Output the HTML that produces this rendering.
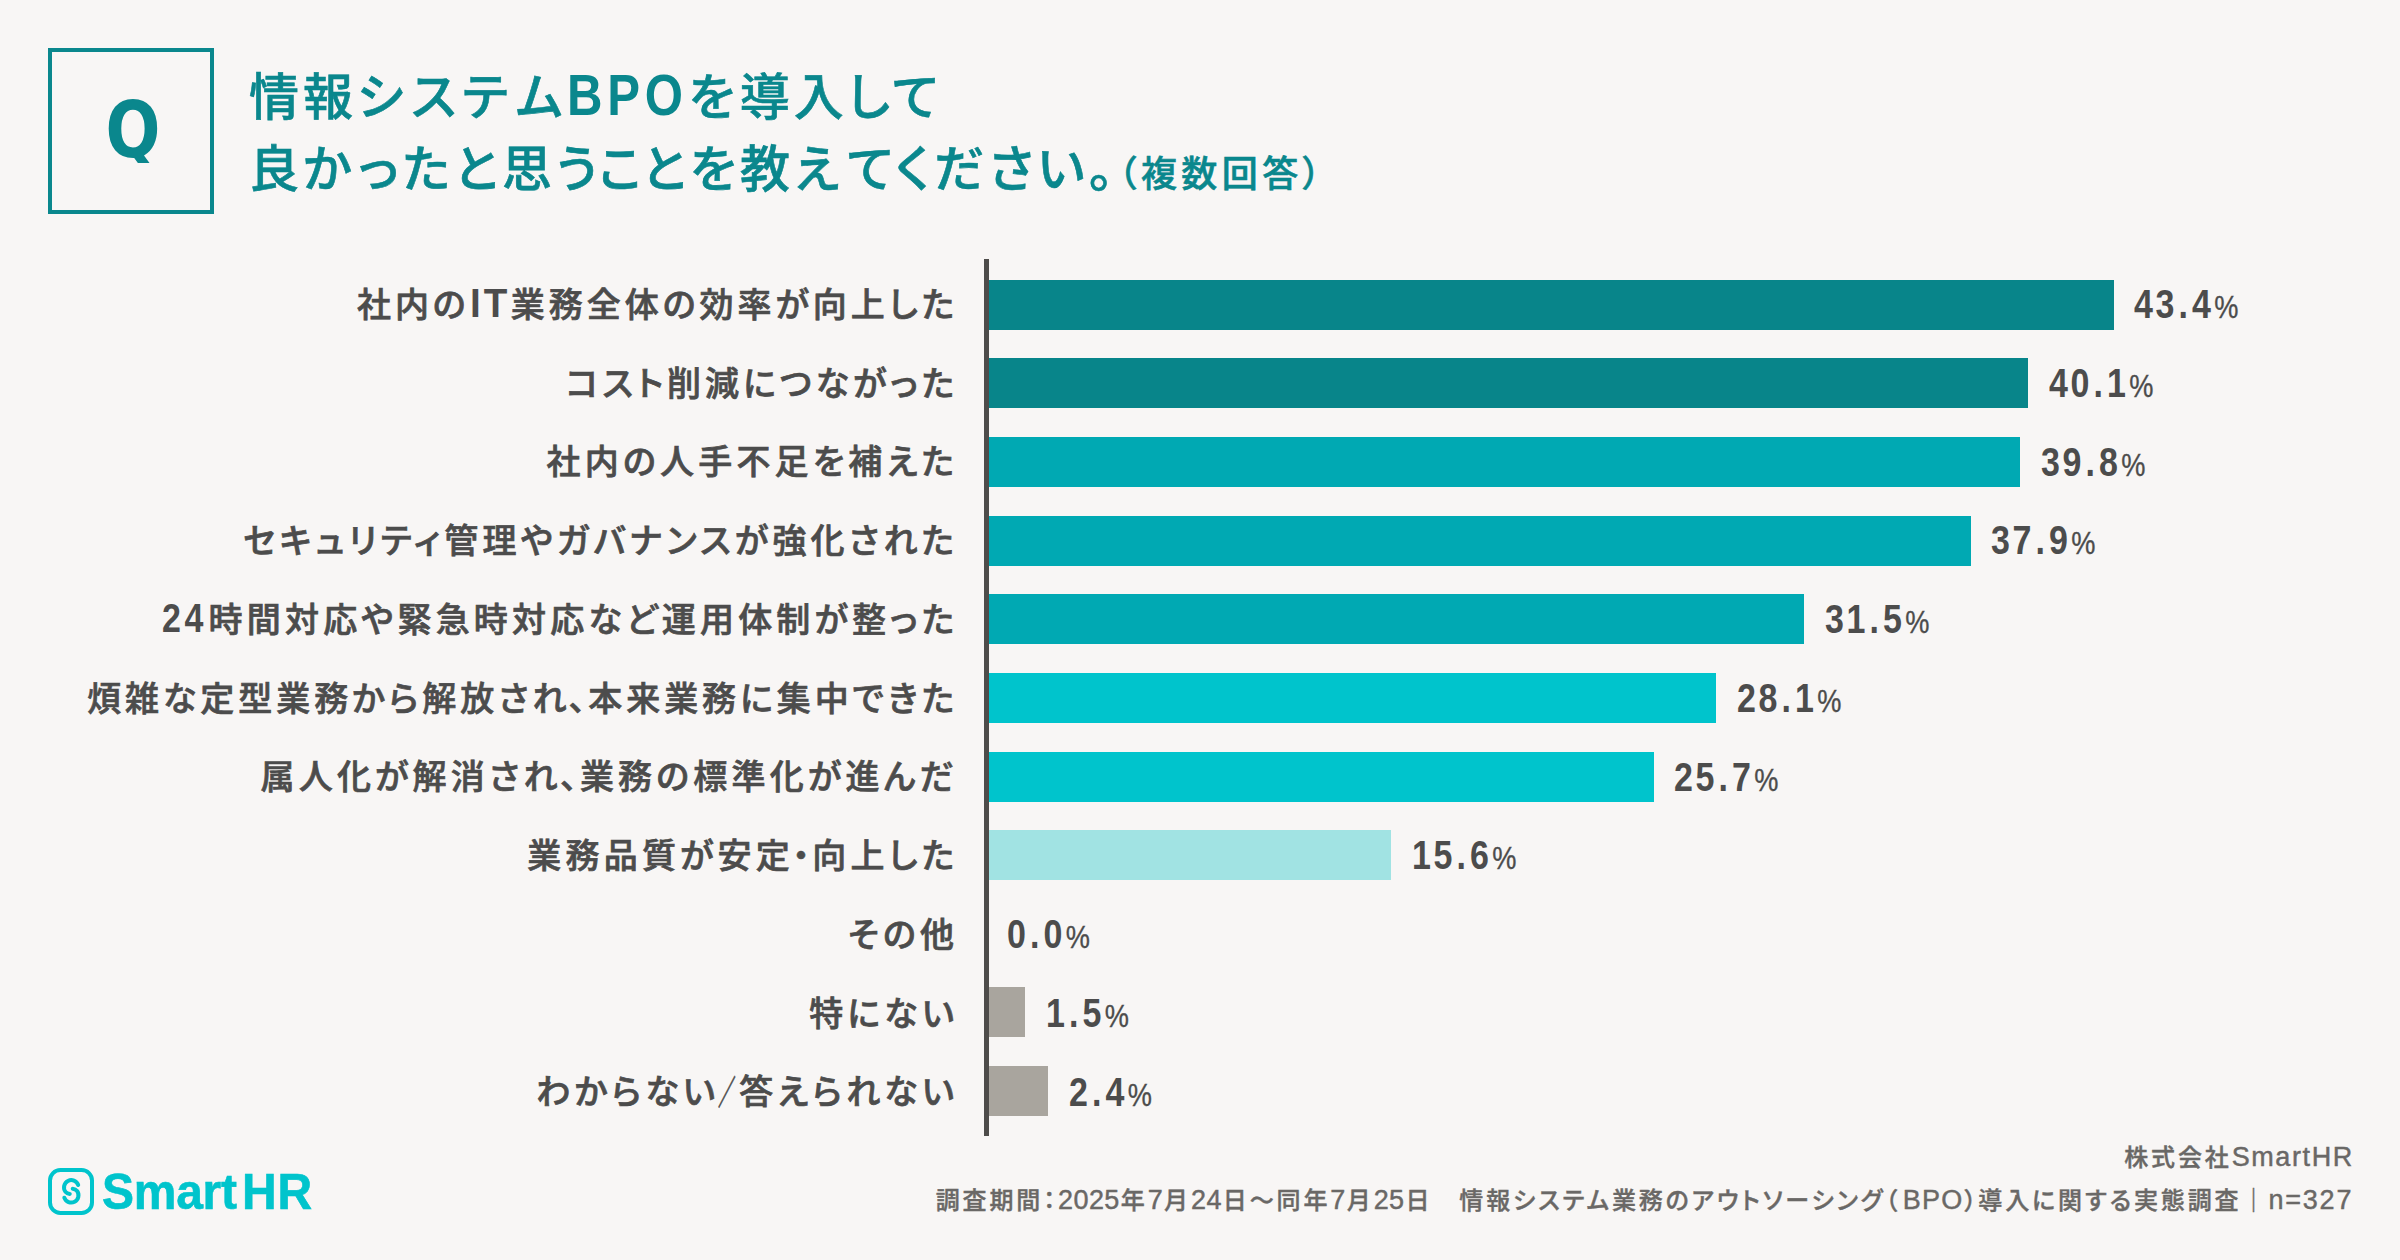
<!DOCTYPE html>
<html lang="ja">
<head>
<meta charset="utf-8">
<title>情報システムBPOを導入して良かったと思うこと</title>
<style>
html,body{margin:0;padding:0;}
body{width:2400px;height:1260px;overflow:hidden;background:#F8F6F5;position:relative;
  font-family:"Liberation Sans","Noto Sans CJK JP",sans-serif;color:#4C4C4C;}
div{position:absolute;white-space:nowrap;}
.qbox{left:48px;top:48px;width:158px;height:158px;border:4px solid #0A878D;}
.q{left:49.5px;top:48px;width:166px;height:114.5px;overflow:hidden;line-height:164px;text-align:center;font-family:"DejaVu Sans Condensed","Liberation Sans",sans-serif;font-size:78px;font-weight:700;color:#0A878D;transform:scaleX(0.92);}
.t{left:249px;font-size:50px;font-weight:500;-webkit-text-stroke:0.6px #0A878D;color:#0A878D;letter-spacing:4px;line-height:72px;height:72px;font-feature-settings:"palt";}
.t1{top:62px;}
.t2{top:134px;}
.t .bpo{font-weight:700;-webkit-text-stroke:0;display:inline-block;width:122px;font-size:56.5px;letter-spacing:5.5px;transform:scaleX(0.87);transform-origin:0 50%;vertical-align:baseline;line-height:60px;margin-left:0px;}
.t i{font-style:normal;}
.t .sm{font-size:36px;letter-spacing:4.4px;margin-left:1px;}
.lab .h{margin:0 -1.5px;}
.lab .p{display:inline-block;width:21px;margin:0 0 0 -1px;font-weight:900;-webkit-text-stroke:0.5px #4C4C4C;font-feature-settings:normal;letter-spacing:0;position:relative;top:1px;transform:scaleX(0.52);transform-origin:0 50%;text-align:left;}
.lab .n{display:inline-block;font-size:40px;font-weight:700;-webkit-text-stroke:0;letter-spacing:4.2px;transform:scaleX(0.85);transform-origin:0 50%;line-height:40px;text-align:left;}
.lab{right:1446px;height:70px;line-height:70px;font-size:34px;font-weight:500;-webkit-text-stroke:0.7px #4C4C4C;letter-spacing:4.2px;margin-right:-4.2px;font-feature-settings:"palt";text-align:right;}
.axis{left:983.6px;top:259px;width:5px;height:876.7px;background:#4E4C4A;z-index:2;}
.bar{left:985.9px;height:50px;}
.val{height:70px;line-height:70px;font-size:40px;font-weight:700;letter-spacing:3px;transform:scaleX(0.85);transform-origin:0 50%;}
.val i{font-style:normal;margin:0 1.8px;}
.val .pc{font-size:32px;font-weight:400;letter-spacing:0;margin-left:1px;-webkit-text-stroke:0.35px #4C4C4C;}
.logo{left:48px;top:1168px;}
.logot{left:102px;top:1162.3px;height:60px;line-height:60px;font-size:49.5px;font-weight:700;color:#00C4CC;letter-spacing:-0.3px;-webkit-text-stroke:0.6px #00C4CC;transform:scaleX(0.97);transform-origin:0 50%;}
.logot span{margin-left:5.5px;letter-spacing:0.8px;}
.f{right:48px;text-align:right;font-size:24px;color:#6A6866;letter-spacing:2.88px;margin-right:-2.88px;height:40px;line-height:40px;font-weight:500;font-feature-settings:"palt";-webkit-text-stroke:0.4px #6A6866;}
.f .l{font-size:27px;letter-spacing:0.4px;font-weight:400;-webkit-text-stroke:0.45px #6A6866;margin-right:1px;}
.f1{top:1137px;}
.f2{top:1180px;right:auto;left:935.7px;text-align:left;}
</style>
</head>
<body>
<div class="qbox"></div>
<div class="q">Q</div>
<div class="t t1">情報シ<i style="margin-left:4px">ス</i><i style="margin-left:2px">テ</i><i style="margin-left:4px">ム</i><span class="bpo">BPO</span>を<i style="margin-left:1px">導</i>入して</div>
<div class="t t2">良か<i style="margin-left:3px">っ</i>たと思う<i style="margin-left:-3px">こ</i><i style="margin-left:-4px">と</i>を教え<i style="margin-left:4px">て</i>ください。<span class="sm"><span class="p">（</span>複数回答<span class="p">）</span></span></div>
<div class="axis"></div>
<div class="lab" style="top:269.80px;letter-spacing:4.0px;margin-right:-4.0px">社内の<span class="n" style="width:41.1px;font-size:41.5px;letter-spacing:3.2px;transform:scaleX(0.93)">IT</span>業務全体の効率が向上した</div>
<div class="bar" style="top:279.80px;width:1127.79px;background:#08858A"></div>
<div class="val" style="top:269.10px;left:2134.39px">43<i>.</i>4<span class="pc">%</span></div>
<div class="lab" style="top:348.55px;letter-spacing:4.0px;margin-right:-4.0px">コスト削減につながった</div>
<div class="bar" style="top:358.42px;width:1042.04px;background:#08858A"></div>
<div class="val" style="top:347.85px;left:2048.64px">40<i>.</i>1<span class="pc">%</span></div>
<div class="lab" style="top:427.30px;letter-spacing:4.2px;margin-right:-4.2px">社内の人手不足を補えた</div>
<div class="bar" style="top:437.04px;width:1034.24px;background:#00A9B3"></div>
<div class="val" style="top:426.60px;left:2040.84px">39<i>.</i>8<span class="pc">%</span></div>
<div class="lab" style="top:506.05px;letter-spacing:4.2px;margin-right:-4.2px">セキュリティ管理やガバナンスが強化された</div>
<div class="bar" style="top:515.66px;width:984.87px;background:#00A9B3"></div>
<div class="val" style="top:505.35px;left:1991.47px">37<i>.</i>9<span class="pc">%</span></div>
<div class="lab" style="top:584.80px;letter-spacing:4.2px;margin-right:-4.2px"><span class="n" style="width:46.2px">24</span>時間対応や緊急時対応など運用体制が整った</div>
<div class="bar" style="top:594.28px;width:818.56px;background:#00A9B3"></div>
<div class="val" style="top:584.10px;left:1825.16px">31<i>.</i>5<span class="pc">%</span></div>
<div class="lab" style="top:663.55px;letter-spacing:3.93px;margin-right:-3.93px">煩雑な定型業務から解放され<span class="h">、</span>本来業務に集中できた</div>
<div class="bar" style="top:672.90px;width:730.21px;background:#00C4CC"></div>
<div class="val" style="top:662.85px;left:1736.81px">28<i>.</i>1<span class="pc">%</span></div>
<div class="lab" style="top:742.30px;letter-spacing:4.2px;margin-right:-4.2px">属人化が解消され<span class="h">、</span>業務の標準化が進んだ</div>
<div class="bar" style="top:751.52px;width:667.84px;background:#00C4CC"></div>
<div class="val" style="top:741.60px;left:1674.44px">25<i>.</i>7<span class="pc">%</span></div>
<div class="lab" style="top:821.05px;letter-spacing:4.2px;margin-right:-4.2px">業務品質が安定<span class="h">・</span>向上した</div>
<div class="bar" style="top:830.14px;width:405.38px;background:#A1E3E3"></div>
<div class="val" style="top:820.35px;left:1411.98px">15<i>.</i>6<span class="pc">%</span></div>
<div class="lab" style="top:899.80px;letter-spacing:4.2px;margin-right:-4.2px">その他</div>
<div class="val" style="top:899.10px;left:1006.60px">0<i>.</i>0<span class="pc">%</span></div>
<div class="lab" style="top:978.55px;letter-spacing:4.2px;margin-right:-4.2px">特にない</div>
<div class="bar" style="top:987.38px;width:38.98px;background:#A9A59E"></div>
<div class="val" style="top:977.85px;left:1045.58px">1<i>.</i>5<span class="pc">%</span></div>
<div class="lab" style="top:1057.30px;letter-spacing:4.2px;margin-right:-4.2px">わからない<span class="p">／</span>答えられない</div>
<div class="bar" style="top:1066.00px;width:62.37px;background:#A9A59E"></div>
<div class="val" style="top:1056.60px;left:1068.97px">2<i>.</i>4<span class="pc">%</span></div>
<div class="logo"><svg width="46" height="47" viewBox="0 0 46 47" fill="none" stroke="#00C4CC" stroke-width="4" stroke-linecap="round" stroke-linejoin="round"><rect x="2" y="2" width="42" height="43" rx="10.4"/><path d="M30.2 17A7.3 7.3 0 1 0 17.4 23.7Q19 25.6 21.8 25.9"/><path d="M16.3 29.7A7.3 7.3 0 1 0 29.1 23Q27.5 21.1 24.7 20.8"/></svg></div>
<div class="logot">Smart<span>HR</span></div>
<div class="f f1">株式会社<span class="l" style="letter-spacing:1.6px">SmartHR</span></div>
<div class="f f2">調査期間：<span class="l">2025</span>年<span class="l">7</span>月<span class="l">24</span>日～同年<span class="l">7</span>月<span class="l">25</span>日　情報システム業務のアウトソーシング（<span class="l" style="margin-left:2.5px;letter-spacing:1.2px">BPO</span>）<i style="font-style:normal;margin-left:-1px">導</i>入に関する実態調査<span class="vb">｜</span><span class="l" style="letter-spacing:1.8px;margin-right:-1.8px">n=327</span></div>
</body>
</html>
